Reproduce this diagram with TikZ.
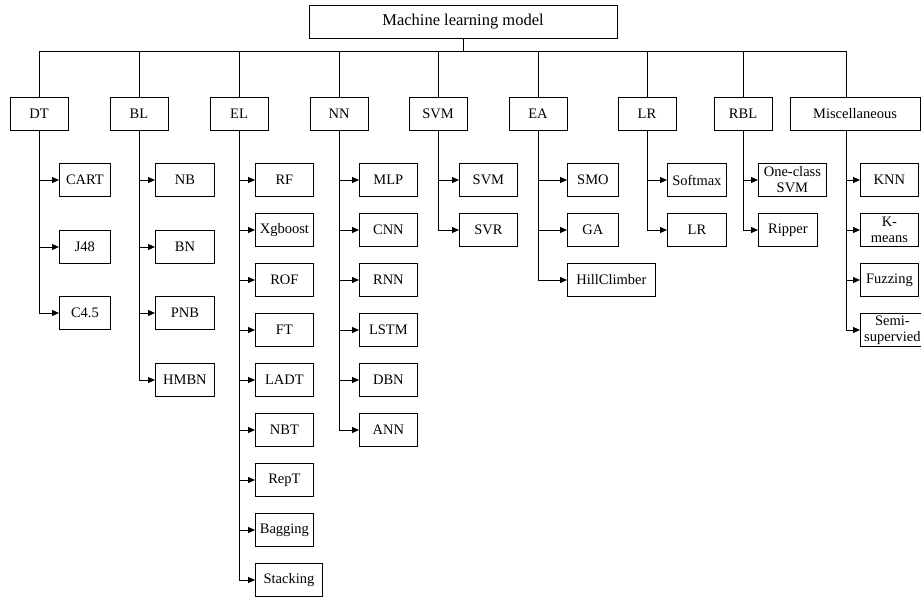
\documentclass[tikz,border=0pt]{standalone}
\usepackage{fontspec}
\setmainfont{Liberation Serif}
\usetikzlibrary{arrows.meta,positioning}

\begin{document}
\begin{tikzpicture}[
    x=1pt,y=-1pt,
    box/.style={draw,minimum height=33pt,inner sep=1pt,align=center,font=\fontsize{14.5}{16}\selectfont},
    cat/.style={box,minimum width=58pt},
    leaf/.style={box,anchor=west},
    arr/.style={-{Triangle[length=7pt,width=6pt]}},
    line width=0.8pt,
]
    \useasboundingbox (0,0) rectangle (921,597);
    \node[box,minimum width=308pt,font=\fontsize{16.5}{16.5}\selectfont] (root) at (463,21.5) {Machine learning model};
    \coordinate (bus) at (0,51);

    % categories
    \node[cat] (dt) at (39,113.5) {DT};
    \node[cat] (bl) at (139,113.5) {BL};
    \node[cat] (el) at (239,113.5) {EL};
    \node[cat] (nn) at (339,113.5) {NN};
    \node[cat] (svm) at (438,113.5) {SVM};
    \node[cat] (ea) at (538,113.5) {EA};
    \node[cat] (lr) at (647,113.5) {LR};
    \node[cat] (rbl) at (743,113.5) {RBL};
    \node[box,minimum width=130pt] (misc) at (855,113.5) {Miscellaneous};
    \coordinate (mtop) at (846,97);
    \coordinate (mbot) at (846,130);

    % DT
    \node[leaf,minimum width=51pt] (cart) at (59,180) {CART};
    \node[leaf,minimum width=51pt] (j48) at (59,247) {J48};
    \node[leaf,minimum width=51pt] (c45) at (59,313) {C4.5};
    % BL
    \node[leaf,minimum width=59pt] (nb) at (155,180) {NB};
    \node[leaf,minimum width=59pt] (bn) at (155,247) {BN};
    \node[leaf,minimum width=59pt] (pnb) at (155,313) {PNB};
    \node[leaf,minimum width=59pt] (hmbn) at (155,380) {HMBN};
    % EL
    \node[leaf,minimum width=58pt] (rf) at (255,180) {RF};
    \node[leaf,minimum width=58pt] (xgb) at (255,230) {Xgboost};
    \node[leaf,minimum width=58pt] (rof) at (255,280) {ROF};
    \node[leaf,minimum width=58pt] (ft) at (255,330) {FT};
    \node[leaf,minimum width=58pt] (ladt) at (255,380) {LADT};
    \node[leaf,minimum width=58pt] (nbt) at (255,430) {NBT};
    \node[leaf,minimum width=58pt] (rept) at (255,480) {RepT};
    \node[leaf,minimum width=58pt] (bag) at (255,530) {Bagging};
    \node[leaf,minimum width=67pt] (stack) at (255,580) {Stacking};
    % NN
    \node[leaf,minimum width=58pt] (mlp) at (359,180) {MLP};
    \node[leaf,minimum width=58pt] (cnn) at (359,230) {CNN};
    \node[leaf,minimum width=58pt] (rnn) at (359,280) {RNN};
    \node[leaf,minimum width=58pt] (lstm) at (359,330) {LSTM};
    \node[leaf,minimum width=58pt] (dbn) at (359,380) {DBN};
    \node[leaf,minimum width=58pt] (ann) at (359,430) {ANN};
    % SVM
    \node[leaf,minimum width=58pt] (svmc) at (459,180) {SVM};
    \node[leaf,minimum width=58pt] (svr) at (459,230) {SVR};
    % EA
    \node[leaf,minimum width=51pt] (smo) at (567,180) {SMO};
    \node[leaf,minimum width=51pt] (ga) at (567,230) {GA};
    \node[leaf,minimum width=88pt] (hill) at (567,280) {HillClimber};
    % LR
    \node[leaf,minimum width=59pt] (soft) at (667,180) {Softmax};
    \node[leaf,minimum width=59pt] (lrc) at (667,230) {LR};
    % RBL
    \node[leaf,minimum width=68pt] (ocsvm) at (758,180) {One-class\\SVM};
    \node[leaf,minimum width=59pt] (rip) at (758,230) {Ripper};
    % Miscellaneous
    \node[leaf,minimum width=58pt] (knn) at (860,180) {KNN};
    \node[leaf,minimum width=58pt] (kmeans) at (860,230) {K-\\means};
    \node[leaf,minimum width=58pt] (fuzz) at (860,280) {Fuzzing};
    \node[leaf,minimum width=64pt] (semi) at (860,330) {Semi-\\supervied};

    % root to categories
    \draw (root.south) -- (root.south |- bus);
    \draw (dt.north) |- (bus -| mtop) -- (mtop);
    \draw (bl.north) -- (bl.north |- bus);
    \draw (el.north) -- (el.north |- bus);
    \draw (nn.north) -- (nn.north |- bus);
    \draw (svm.north) -- (svm.north |- bus);
    \draw (ea.north) -- (ea.north |- bus);
    \draw (lr.north) -- (lr.north |- bus);
    \draw (rbl.north) -- (rbl.north |- bus);

    % categories to models
    \draw[arr] (dt.south) |- (cart.west);
    \draw[arr] (dt.south) |- (j48.west);
    \draw[arr] (dt.south) |- (c45.west);
    \draw[arr] (bl.south) |- (nb.west);
    \draw[arr] (bl.south) |- (bn.west);
    \draw[arr] (bl.south) |- (pnb.west);
    \draw[arr] (bl.south) |- (hmbn.west);
    \draw[arr] (el.south) |- (rf.west);
    \draw[arr] (el.south) |- (xgb.west);
    \draw[arr] (el.south) |- (rof.west);
    \draw[arr] (el.south) |- (ft.west);
    \draw[arr] (el.south) |- (ladt.west);
    \draw[arr] (el.south) |- (nbt.west);
    \draw[arr] (el.south) |- (rept.west);
    \draw[arr] (el.south) |- (bag.west);
    \draw[arr] (el.south) |- (stack.west);
    \draw[arr] (nn.south) |- (mlp.west);
    \draw[arr] (nn.south) |- (cnn.west);
    \draw[arr] (nn.south) |- (rnn.west);
    \draw[arr] (nn.south) |- (lstm.west);
    \draw[arr] (nn.south) |- (dbn.west);
    \draw[arr] (nn.south) |- (ann.west);
    \draw[arr] (svm.south) |- (svmc.west);
    \draw[arr] (svm.south) |- (svr.west);
    \draw[arr] (ea.south) |- (smo.west);
    \draw[arr] (ea.south) |- (ga.west);
    \draw[arr] (ea.south) |- (hill.west);
    \draw[arr] (lr.south) |- (soft.west);
    \draw[arr] (lr.south) |- (lrc.west);
    \draw[arr] (rbl.south) |- (ocsvm.west);
    \draw[arr] (rbl.south) |- (rip.west);
    \draw[arr] (mbot) |- (knn.west);
    \draw[arr] (mbot) |- (kmeans.west);
    \draw[arr] (mbot) |- (fuzz.west);
    \draw[arr] (mbot) |- (semi.west);
\end{tikzpicture}
\end{document}
